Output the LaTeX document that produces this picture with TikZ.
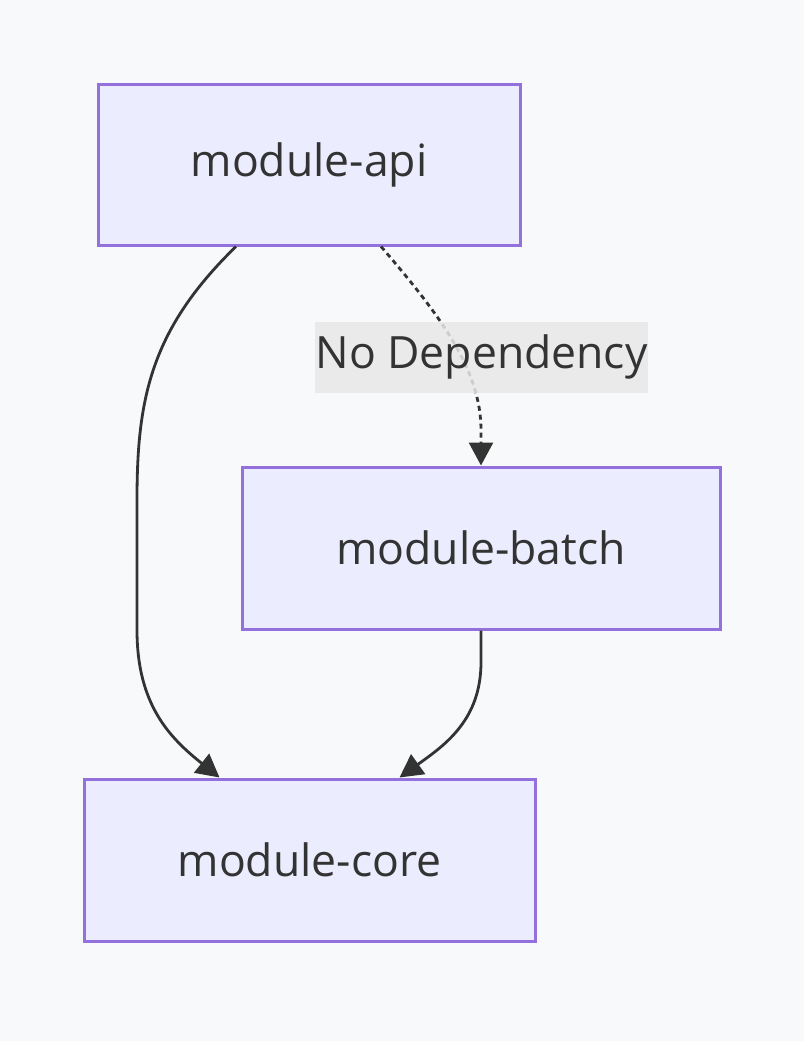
\documentclass[tikz,border=0pt]{standalone}
\usepackage{fontspec}
\setmainfont{Open Sans}
\usetikzlibrary{arrows.meta,calc}
\definecolor{bgc}{HTML}{F8F9FA}
\definecolor{nodefill}{HTML}{ECECFF}
\definecolor{nodeline}{HTML}{9370DB}
\definecolor{ink}{HTML}{333333}
\definecolor{lblbg}{HTML}{E8E8E8}
\tikzset{
  box/.style={draw=nodeline,fill=nodefill,line width=3pt,text=ink,font=\fontsize{44.5}{50}\selectfont,inner sep=0pt},
  edge/.style={draw=ink,line width=2.8pt,-{Triangle[length=23pt,width=24pt]}},
  lbl/.style={fill=lblbg,fill opacity=0.85,text opacity=1,text=ink,font=\fontsize{44.5}{50}\selectfont,inner sep=0pt,minimum width=333pt,minimum height=71pt}
}
\begin{document}
\begin{tikzpicture}[x=1pt,y=-1pt]
\fill[bgc] (0,0) rectangle (804,1041);
\useasboundingbox (0,0) rectangle (804,1041);
\node[box,minimum width=422pt,minimum height=161pt] (api) at (309,164.5) {module-api};
\node[box,minimum width=478pt,minimum height=162pt] (batch) at (481,548) {module-batch};
\node[box,minimum width=451pt,minimum height=162pt] (core) at (309.5,860) {module-core};
\draw[edge] ([xshift=-73pt]api.south) .. controls (150,330) and (137,400) .. (137,500) -- (137,630) .. controls (137,705) and (170,738) .. ([xshift=-90pt]core.north);
\draw[edge,dash pattern=on 5pt off 4pt] ([xshift=72pt]api.south) .. controls (440,315) and (481,370) .. (481,430) -- (batch.north);
\node[lbl] (l1) at (481.5,357) {No Dependency};
\draw[edge] (batch.south) -- (481,662) .. controls (481,720) and (445,745) .. ([xshift=90pt]core.north);
\end{tikzpicture}
\end{document}
